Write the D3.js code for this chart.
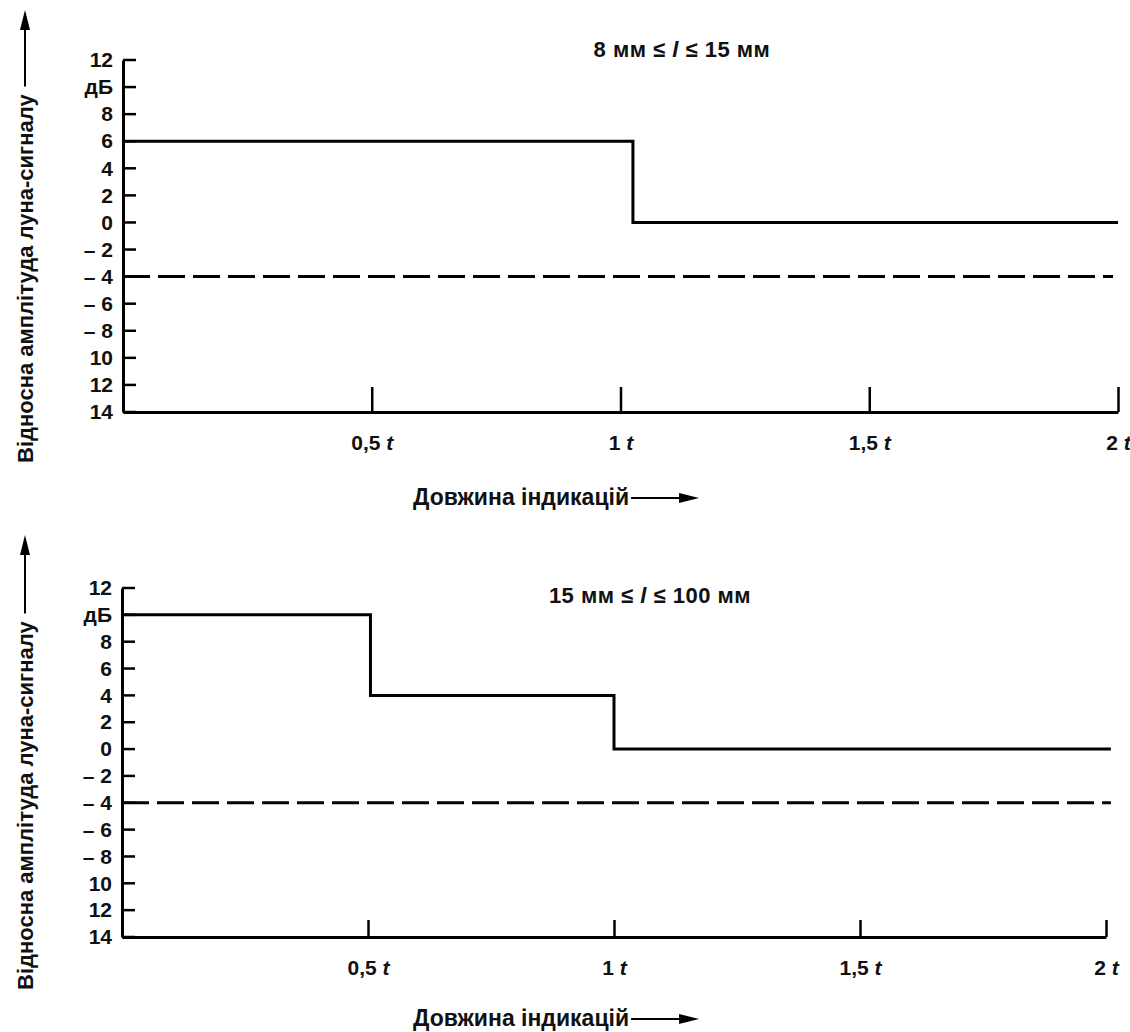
<html>
<head>
    <meta charset="UTF-8" />
    <title>Рівні приймання</title>
    <script src="https://d3js.org/d3.v7.min.js"></script>
    <style>
        body { margin: 0; background: white; }
        text { font-family: "Liberation Sans", Arial, sans-serif; font-weight: bold; fill: #111; }
    </style>
</head>
<body>
    <svg id="canvas" width="1130" height="1032"></svg>
    <script>
        // values
        const yTickValues = [12, 10, 8, 6, 4, 2, 0, -2, -4, -6, -8, -10, -12, -14];
        const yTickLabels = ["12", "дБ", "8", "6", "4", "2", "0", "– 2", "– 4", "– 6", "– 8", "10", "12", "14"];
        const xTickValues = [0.5, 1, 1.5, 2];
        const xTickLabels = ["0,5", "1", "1,5", "2"];

        // top chart: 8 мм ≤ l ≤ 15 мм
        const topStepX = [0, 1.025, 2];
        const topStepY = [6, 0, 0];
        // bottom chart: 15 мм ≤ l ≤ 100 мм
        const bottomStepX = [0, 0.505, 1, 2.01];
        const bottomStepY = [10, 4, 0, 0];
        // dashed recording level
        const thresholdLevel = -4;

        const yAxisTitle = "Відносна амплітуда луна-сигналу";
        const xAxisTitle = "Довжина індикацій";

        let canvas = d3.select("svg#canvas");
        canvas.append("rect").attr("width", 1130).attr("height", 1032).attr("fill", "white");

        const panels = [
            {top: 60, bottom: 412, left: 123, right: 1118, xTick: 25, stepX: topStepX, stepY: topStepY, dashEnd: 1.99,
             title: ["8 мм ≤ ", " ≤ 15 мм"], titleX: 682, titleY: 57, xTitleY: 505, yTitleBottom: 463, arrowTop: 10},
            {top: 588, bottom: 937, left: 122, right: 1106, xTick: 17, stepX: bottomStepX, stepY: bottomStepY, dashEnd: 2.01,
             title: ["15 мм ≤ ", " ≤ 100 мм"], titleX: 650, titleY: 603, xTitleY: 1026, yTitleBottom: 990, arrowTop: 535}
        ];

        panels.forEach( (p) => {
            let g = canvas.append("g");
            const x = d3.scaleLinear().domain([0, 2]).range([p.left, p.right]);
            const y = d3.scaleLinear().domain([-14, 12]).range([p.bottom, p.top]);

            // y axis, labels only, ticks drawn below
            let yAxis = g.append("g")
                .attr("transform", `translate(${p.left},0)`)
                .call(d3.axisLeft(y).tickValues(yTickValues)
                    .tickFormat( (d, i) => yTickLabels[i] )
                    .tickSize(0).tickPadding(10));
            yAxis.select(".domain").attr("stroke", "#000").attr("stroke-width", 3);
            yAxis.selectAll(".tick text").attr("font-size", "21px").attr("font-family", null).attr("fill", null);

            // inward y ticks
            g.selectAll("line.ytick")
                .data(yTickValues)
                .enter().append("line")
                .attr("class", "ytick")
                .attr("x1", p.left).attr("x2", p.left + 13)
                .attr("y1", d => y(d)).attr("y2", d => y(d))
                .attr("stroke", "#000").attr("stroke-width", 2.5);

            // x axis with upward ticks
            let xAxis = g.append("g")
                .attr("transform", `translate(0,${p.bottom})`)
                .call(d3.axisBottom(x).tickValues(xTickValues)
                    .tickSizeInner(-p.xTick).tickSizeOuter(0).tickPadding(23));
            xAxis.select(".domain").attr("stroke", "#000").attr("stroke-width", 3);
            xAxis.selectAll(".tick line").attr("stroke", "#000").attr("stroke-width", 2.5);
            xAxis.selectAll(".tick text")
                .attr("font-size", "21px").attr("font-family", null).attr("fill", null)
                .each( function(d, i) {
                    d3.select(this).text(xTickLabels[i] + " ")
                        .append("tspan").attr("font-style", "italic").text("t");
                });

            // dashed level
            g.append("line")
                .attr("x1", x(0)).attr("x2", x(p.dashEnd))
                .attr("y1", y(thresholdLevel)).attr("y2", y(thresholdLevel))
                .attr("stroke", "#000").attr("stroke-width", 3)
                .attr("stroke-dasharray", "27,8");

            // step line
            const pts = p.stepX.map( (d, i) => [d, p.stepY[i]] );
            g.append("path")
                .datum(pts)
                .attr("d", d3.line().x(d => x(d[0])).y(d => y(d[1])).curve(d3.curveStepAfter))
                .attr("fill", "none").attr("stroke", "#000").attr("stroke-width", 3);

            // panel title
            let t = g.append("text")
                .attr("x", p.titleX).attr("y", p.titleY)
                .attr("text-anchor", "middle").attr("font-size", "22px")
                .attr("letter-spacing", "0.5px");
            t.append("tspan").text(p.title[0]);
            t.append("tspan").attr("font-style", "italic").text("l");
            t.append("tspan").text(p.title[1]);

            // x axis title with arrow
            let xt = g.append("text")
                .attr("x", 413).attr("y", p.xTitleY)
                .attr("font-size", "23px")
                .text(xAxisTitle);
            const xEnd = 413 + xt.node().getComputedTextLength() + 2;
            const ay = p.xTitleY - 7;
            g.append("line").attr("x1", xEnd).attr("x2", xEnd + 55).attr("y1", ay).attr("y2", ay)
                .attr("stroke", "#000").attr("stroke-width", 2);
            g.append("path")
                .attr("d", `M${xEnd + 68},${ay} L${xEnd + 48},${ay - 5} L${xEnd + 48},${ay + 5} Z`)
                .attr("fill", "#000");

            // y axis title with arrow
            let yt = g.append("text")
                .attr("transform", `translate(33,${p.yTitleBottom}) rotate(-90)`)
                .attr("font-size", "22px")
                .text(yAxisTitle);
            const yEnd = p.yTitleBottom - yt.node().getComputedTextLength() - 8;
            g.append("line").attr("x1", 25).attr("x2", 25).attr("y1", yEnd).attr("y2", p.arrowTop + 12)
                .attr("stroke", "#000").attr("stroke-width", 2);
            g.append("path")
                .attr("d", `M25,${p.arrowTop} L20,${p.arrowTop + 20} L30,${p.arrowTop + 20} Z`)
                .attr("fill", "#000");
        });
    </script>
</body>
</html>
